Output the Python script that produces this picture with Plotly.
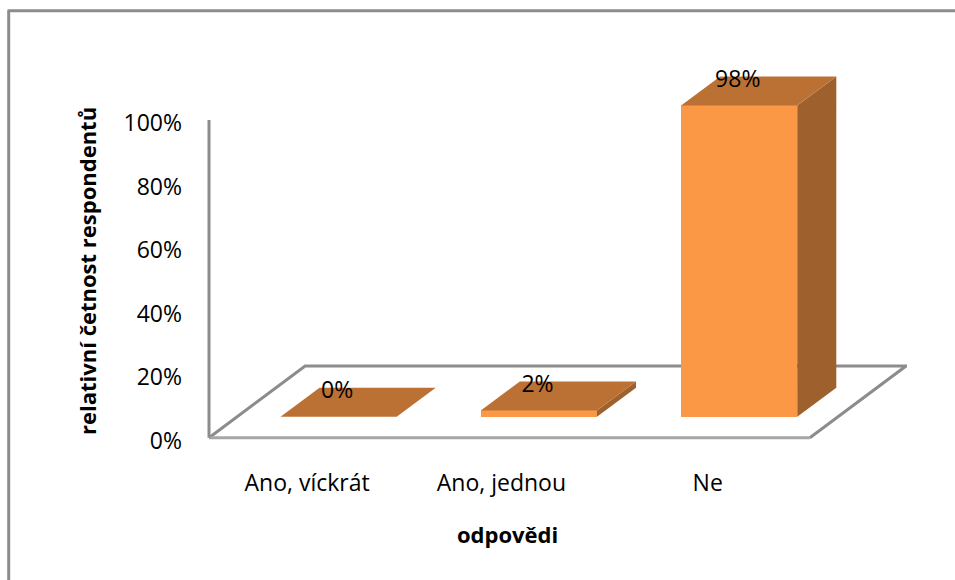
import plotly.graph_objects as go

categories = ["Ano, víckrát", "Ano, jednou", "Ne"]
values = [0, 2, 98]
labels = ["0%", "2%", "98%"]
y_ticks = [0, 20, 40, 60, 80, 100]
y_tick_labels = ["0%", "20%", "40%", "60%", "80%", "100%"]
x_tick_positions = [-0.01, 0.96, 1.99]

FONT = "Open Sans"
TICK_SIZE = 23
TITLE_SIZE = 22
FRONT, TOP, SIDE = "#FB9846", "#BC7134", "#9E602C"
GRAY = "#8C8C8C"

# oblique-projection settings, in axis units (200 px per category, 3.18 px per %)
BASE = 6.6        # bars stand this far in from the floor's front edge
DX, DY = 0.195, 9.12
BAR_W = 0.58
BAR_SHIFT = 0.147
FLOOR_DX, FLOOR_DY = 0.48, 22.6
LABEL_DY = 7.6

W, H = 955, 580
ML, MR, MT, MB = 204, 48, 60, 139
PW, PH = W - ML - MR, H - MT - MB


def px(x):
    return (x - ML) / PW


def py(y):
    return (H - MB - y) / PH


xs = [i + BAR_SHIFT for i in range(len(values))]

fig = go.Figure()

fig.add_trace(go.Bar(x=xs, y=values, base=[BASE] * 3, width=BAR_W,
                     marker=dict(color=FRONT, line=dict(width=0)), hoverinfo="skip"))

for x, v in zip(xs, values):
    x0, x1 = x - BAR_W / 2, x + BAR_W / 2
    t = BASE + v
    if v > 0:
        fig.add_trace(go.Scatter(
            x=[x1, x1 + DX, x1 + DX, x1, x1], y=[BASE, BASE + DY, t + DY, t, BASE],
            mode="lines", fill="toself", fillcolor=SIDE, line=dict(width=0), hoverinfo="skip"))
    fig.add_trace(go.Scatter(
        x=[x0, x0 + DX, x1 + DX, x1, x0], y=[t, t + DY, t + DY, t, t],
        mode="lines", fill="toself", fillcolor=TOP, line=dict(width=0), hoverinfo="skip"))

fig.add_trace(go.Scatter(
    x=[x - 0.007 for x in xs], y=[BASE + v + LABEL_DY for v in values], text=labels,
    mode="text", textposition="middle center",
    textfont=dict(family=FONT, size=TICK_SIZE, color="black"), hoverinfo="skip"))

shapes = [
    # floor: diagonal and back edges
    dict(type="path", layer="below", line=dict(color=GRAY, width=3),
         path=f"M -0.5 0 L {-0.5 + FLOOR_DX} {FLOOR_DY} L {2.5 + FLOOR_DX} {FLOOR_DY} L 2.5 0"),
    # floor: front edge
    dict(type="line", layer="below", x0=-0.5, x1=2.5, y0=0, y1=0, line=dict(color="#A6A6A6", width=3)),
    # value axis wall
    dict(type="line", layer="below", x0=-0.5, x1=-0.5, y0=0, y1=100, line=dict(color=GRAY, width=3)),
    # outer chart frame (top and left only)
    dict(type="line", xref="paper", yref="paper", layer="below",
         x0=px(7.5), x1=px(W), y0=py(10.7), y1=py(10.7), line=dict(color=GRAY, width=3)),
    dict(type="line", xref="paper", yref="paper", layer="below",
         x0=px(8.7), x1=px(8.7), y0=py(H), y1=py(10.7), line=dict(color=GRAY, width=3)),
]

annotations = [
    dict(text="<b>relativní četnost respondentů</b>", textangle=-90, xref="paper", yref="paper",
         x=px(86.5), y=py(271.5), showarrow=False, xanchor="center", yanchor="middle",
         font=dict(family=FONT, size=TITLE_SIZE, color="black")),
    dict(text="<b>odpovědi</b>", xref="paper", yref="paper", x=px(507.5), y=py(534),
         showarrow=False, xanchor="center", yanchor="middle",
         font=dict(family=FONT, size=TITLE_SIZE, color="black")),
]

fig.update_layout(
    width=W, height=H, autosize=False,
    margin=dict(l=ML, r=MR, t=MT, b=MB, pad=0),
    paper_bgcolor="white", plot_bgcolor="white",
    showlegend=False, bargap=0,
    shapes=shapes, annotations=annotations,
    font=dict(family=FONT, size=TICK_SIZE, color="black"),
    xaxis=dict(range=[-0.525, 2.5 + FLOOR_DX + 0.005], tickvals=x_tick_positions, ticktext=categories,
               showgrid=False, zeroline=False, showline=False, ticks="", ticklabelstandoff=26,
               tickfont=dict(family=FONT, size=TICK_SIZE, color="black")),
    yaxis=dict(range=[-1, 118.9], tickvals=y_ticks, ticktext=y_tick_labels,
               showgrid=False, zeroline=False, showline=False, ticks="", ticklabelstandoff=21,
               ticklabelshift=3,
               tickfont=dict(family=FONT, size=TICK_SIZE, color="black")),
)

fig.write_html("out.html", config={"displayModeBar": False},
               post_script="document.body.style.margin='0';document.documentElement.style.overflow='hidden';")
